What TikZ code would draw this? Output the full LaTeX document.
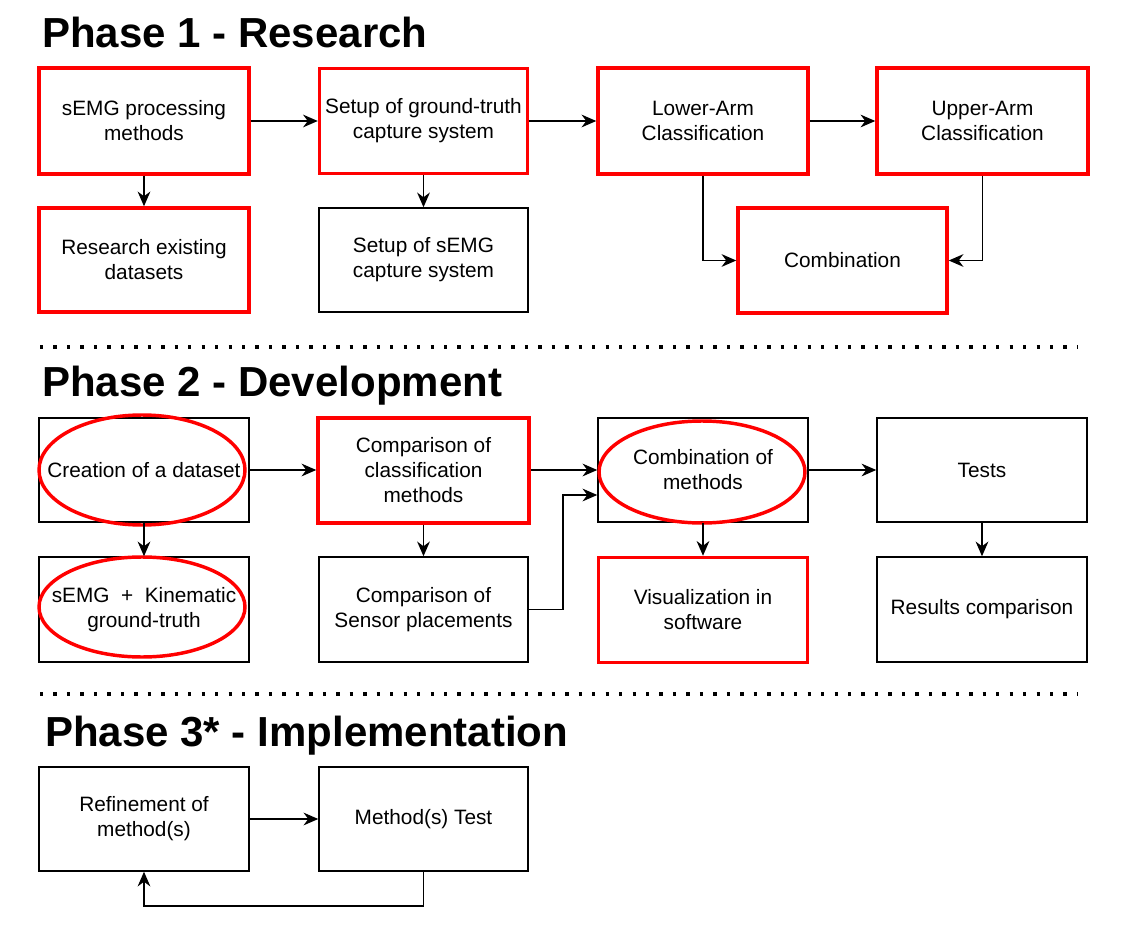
\documentclass[tikz,border=0pt]{standalone}
\usepackage{fontspec}
\setmainfont{Liberation Sans}
\usetikzlibrary{arrows.meta,shapes.geometric}
\begin{document}
\begin{tikzpicture}[x=0.75pt,y=-0.75pt,
  box/.style={draw=black, line width=1.1pt, minimum width=157.5pt, minimum height=78.75pt,
    inner sep=0pt, align=center, font=\fontsize{15.6}{18.75}\selectfont},
  redbox/.style={box, draw=red, line width=2.6pt},
  redell/.style={ellipse, draw=red, line width=2.6pt, inner sep=0pt},
  title/.style={anchor=base west, inner sep=0pt, font=\fontsize{31.5}{36}\selectfont\bfseries},
  arr/.style={draw=black, line width=1.1pt, -{Stealth[length=11pt,width=9.5pt,inset=3.5pt]}},
  dotline/.style={draw=black, line width=2.5pt, dash pattern=on 2.5pt off 7.6pt}]
\useasboundingbox (0,0) rectangle (1133,942);

% Titles
\node[title] (t1) at (42,48) {Phase 1 - Research};
\node[title] (t2) at (42,396) {Phase 2 - Development};
\node[title] (t3) at (45,746) {Phase 3* - Implementation};

% Separators
\coordinate (d1a) at (40,347); \coordinate (d1b) at (1078,347);
\coordinate (d2a) at (40,694); \coordinate (d2b) at (1078,694);
\draw[dotline] (d1a) -- (d1b);
\draw[dotline] (d2a) -- (d2b);

% Phase 1
\node[redbox, minimum height=79.5pt] (p1a) at (144,121) {sEMG processing\\methods};
\node[redbox, minimum width=156pt] (p1b) at (423.5,121) {Setup of ground-truth\\capture system};
\node[redbox, minimum height=79.5pt] (p1c) at (703,121) {Lower-Arm\\Classification};
\node[redbox, minimum width=158.25pt, minimum height=79.5pt] (p1d) at (982.5,121) {Upper-Arm\\Classification};
\node[redbox, minimum height=78pt] (p1e) at (144,260) {Research existing\\datasets};
\node[box, minimum width=156.75pt, minimum height=78pt] (p1f) at (423.5,260) {Setup of sEMG\\capture system};
\node[redbox, minimum width=156.75pt] (p1g) at (842.5,260.5) {Combination};

\draw[arr] (p1a) -- (p1b);
\draw[arr] (p1b) -- (p1c);
\draw[arr] (p1c) -- (p1d);
\draw[arr] (p1a) -- (p1e);
\draw[arr] (p1b) -- (p1f);
\draw[arr] (p1c.south) |- (p1g.west);
\draw[arr] (p1d.south) |- (p1g.east);

% Phase 2
\node[box, minimum height=78pt] (p2a) at (144,470) {Creation of a dataset};
\node[redbox, minimum width=158.25pt] (p2b) at (423.5,470.5) {Comparison of\\classification\\methods};
\node[box, minimum height=78pt] (p2c) at (703,470) {Combination of\\methods};
\node[box, minimum height=78pt] (p2d) at (982,470) {Tests};
\node[box] (p2e) at (144,609.5) {sEMG\ \ +\ \ Kinematic\\ground-truth};
\node[box, minimum width=156.75pt] (p2f) at (423.5,609.5) {Comparison of\\Sensor placements};
\node[redbox, minimum width=156.75pt] (p2g) at (703,610) {Visualization in\\software};
\node[box] (p2h) at (982,609.5) {Results comparison};

\node[redell, minimum width=154.5pt, minimum height=82.5pt] (e2a) at (142,470) {};
\node[redell, minimum width=154.5pt, minimum height=76.5pt] (e2c) at (702,472) {};
\node[redell, minimum width=154.5pt, minimum height=75pt] (e2e) at (142,607) {};

\coordinate (j2) at (563,495);
\draw[arr] (p2a.east) -- (p2b.west |- p2a.east);
\draw[arr] (p2b.east |- p2c.west) -- (p2c.west);
\draw[arr] (p2c) -- (p2d);
\draw[arr] (p2f.east) -| (j2) -- (j2 -| p2c.west);
\draw[arr] (p2a) -- (p2e);
\draw[arr] (p2b) -- (p2f);
\draw[arr] (p2c.south) -- (p2g.north);
\draw[arr] (p2d) -- (p2h);

% Phase 3
\node[box, minimum height=78pt] (p3a) at (144,819) {Refinement of\\method(s)};
\node[box, minimum width=156.75pt, minimum height=78pt] (p3b) at (423.5,819) {Method(s) Test};
\coordinate (lp) at (144,906);
\draw[arr] (p3a) -- (p3b);
\draw[arr] (p3b.south) |- (lp) -- (p3a.south);
\end{tikzpicture}
\end{document}
